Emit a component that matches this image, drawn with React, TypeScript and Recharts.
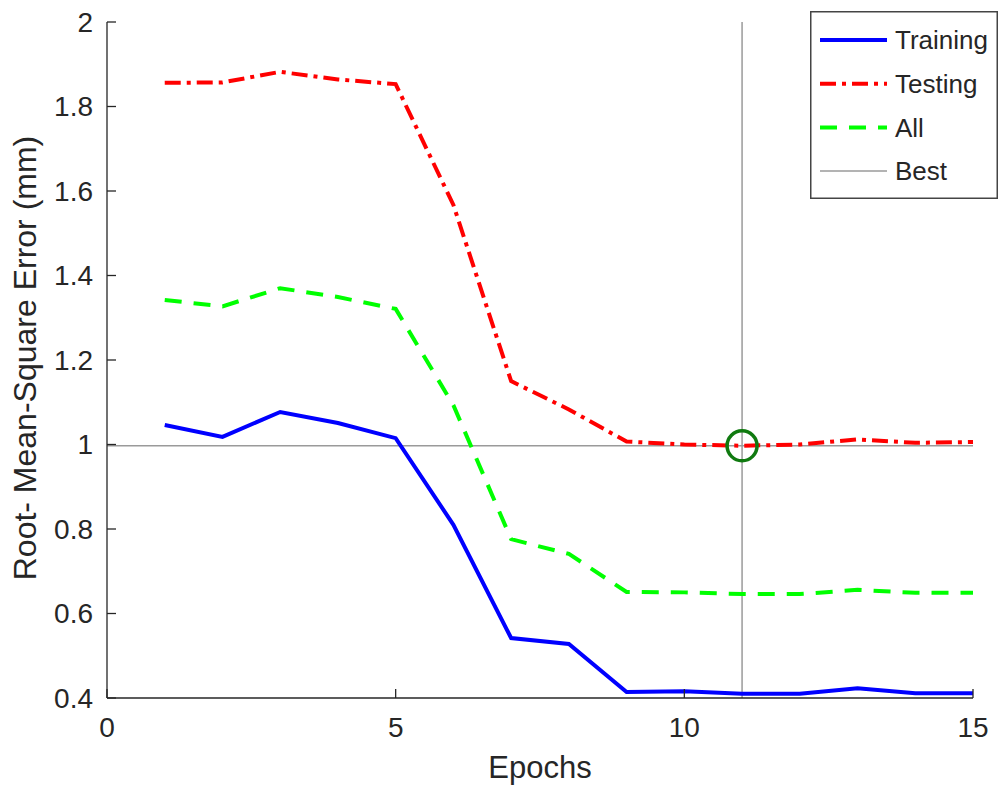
import React from "react";
import {
  LineChart,
  Line,
  XAxis,
  YAxis,
  ReferenceLine,
  ReferenceDot,
} from "recharts";

// values
const epochs = [1, 2, 3, 4, 5, 6, 7, 8, 9, 10, 11, 12, 13, 14, 15];
const training = [1.046, 1.018, 1.077, 1.051, 1.015, 0.81, 0.542, 0.528, 0.414, 0.416, 0.41, 0.41, 0.423, 0.411, 0.411];
const testing = [1.856, 1.857, 1.882, 1.864, 1.853, 1.567, 1.15, 1.083, 1.007, 1.0, 0.997, 1.0, 1.012, 1.004, 1.006];
const all = [1.342, 1.327, 1.37, 1.349, 1.321, 1.093, 0.776, 0.741, 0.651, 0.65, 0.646, 0.646, 0.656, 0.649, 0.649];
const xTicks = [0, 5, 10, 15];
const yTicks = [0.4, 0.6, 0.8, 1, 1.2, 1.4, 1.6, 1.8, 2];
const seriesNames = ["Training", "Testing", "All", "Best"];
const bestEpoch = 11;

const data = epochs.map((e, i) => ({
  epoch: e,
  training: training[i],
  testing: testing[i],
  all: all[i],
}));
const bestValue = testing[epochs.indexOf(bestEpoch)];

const FONT = '"Liberation Sans", Arial, Helvetica, sans-serif';
const AXIS = "#262626";
const GRAY = "#9a9a9a";
const X_MARGIN = 19;
const Y_MARGIN = 14;

const lineStyles: Record<string, { stroke: string; width: number; dash?: string }> = {
  Training: { stroke: "#0000ff", width: 4 },
  Testing: { stroke: "#ff0000", width: 4, dash: "16 6 4 6" },
  All: { stroke: "#00ff00", width: 4, dash: "17 12" },
  Best: { stroke: GRAY, width: 1.5 },
};

const XTick = (props: any) => {
  const { x, y, payload } = props;
  const axisY = y - X_MARGIN;
  return (
    <g>
      <line x1={x} x2={x} y1={axisY} y2={axisY - 9} stroke={AXIS} strokeWidth={1.3} />
      <text x={x} y={y} dy="0.71em" textAnchor="middle" fill={AXIS} fontSize={28} fontFamily={FONT}>
        {payload.value}
      </text>
    </g>
  );
};

const YTick = (props: any) => {
  const { x, y, payload } = props;
  const axisX = x + Y_MARGIN;
  return (
    <g>
      <line x1={axisX} x2={axisX + 9} y1={y} y2={y} stroke={AXIS} strokeWidth={1.3} />
      <text x={x} y={y} dy="0.355em" textAnchor="end" fill={AXIS} fontSize={28} fontFamily={FONT}>
        {String(payload.value)}
      </text>
    </g>
  );
};

const YLabel = () => {
  const cx = 25;
  const cy = 358;
  return (
    <text
      x={cx}
      y={cy}
      transform={`rotate(-90 ${cx} ${cy})`}
      textAnchor="middle"
      dy="0.355em"
      fill={AXIS}
      fontSize={32}
      fontFamily={FONT}
    >
      Root- Mean-Square Error (mm)
    </text>
  );
};

const XLabel = (props: any) => {
  const vb = props.viewBox;
  return (
    <text
      x={vb.x + vb.width / 2}
      y={778}
      textAnchor="middle"
      fill={AXIS}
      fontSize={31}
      fontFamily={FONT}
    >
      Epochs
    </text>
  );
};

const LegendBox = () => (
  <svg width={188} height={188} style={{ display: "block" }}>
    <rect x={0.75} y={0.75} width={186.5} height={186.5} fill="#fff" stroke="#444" strokeWidth={1.5} />
    {seriesNames.map((name, i) => {
      const s = lineStyles[name];
      const cy = 29 + i * 43.7;
      return (
        <g key={name}>
          <line x1={10} x2={77} y1={cy} y2={cy} stroke={s.stroke} strokeWidth={s.width} strokeDasharray={s.dash} />
          <text x={85} y={cy} dy="0.355em" fill={AXIS} fontSize={26} fontFamily={FONT}>
            {name}
          </text>
        </g>
      );
    })}
  </svg>
);

export default function App() {
  return (
    <div style={{ position: "absolute", left: 0, top: 0, width: 1000, height: 787, background: "#fff" }}>
      <LineChart width={1000} height={787} data={data} margin={{ top: 22, right: 27, bottom: 0, left: 0 }}>
        <XAxis
          dataKey="epoch"
          type="number"
          domain={[0, 15]}
          ticks={xTicks}
          interval={0}
          height={89}
          tickSize={0}
          tickMargin={X_MARGIN}
          tickLine={false}
          axisLine={{ stroke: AXIS, strokeWidth: 1.3 }}
          tick={<XTick />}
          label={<XLabel />}
        />
        <YAxis
          type="number"
          domain={[0.4, 2]}
          ticks={yTicks}
          interval={0}
          width={107}
          tickSize={0}
          tickMargin={Y_MARGIN}
          tickLine={false}
          axisLine={{ stroke: AXIS, strokeWidth: 1.3 }}
          tick={<YTick />}
          label={<YLabel />}
        />
        <ReferenceLine x={bestEpoch} stroke={GRAY} strokeWidth={1.5} />
        <ReferenceLine y={bestValue} stroke={GRAY} strokeWidth={1.5} />
        <Line
          dataKey="training"
          name="Training"
          stroke={lineStyles.Training.stroke}
          strokeWidth={4}
          dot={false}
          activeDot={false}
          isAnimationActive={false}
        />
        <Line
          dataKey="testing"
          name="Testing"
          stroke={lineStyles.Testing.stroke}
          strokeWidth={4}
          strokeDasharray={lineStyles.Testing.dash}
          dot={false}
          activeDot={false}
          isAnimationActive={false}
        />
        <Line
          dataKey="all"
          name="All"
          stroke={lineStyles.All.stroke}
          strokeWidth={4}
          strokeDasharray={lineStyles.All.dash}
          dot={false}
          activeDot={false}
          isAnimationActive={false}
        />
        <ReferenceDot x={bestEpoch} y={bestValue} r={15} fill="none" stroke="#107a10" strokeWidth={3.5} />
      </LineChart>
      <div style={{ position: "absolute", top: 11, left: 810 }}>
        <LegendBox />
      </div>
    </div>
  );
}
